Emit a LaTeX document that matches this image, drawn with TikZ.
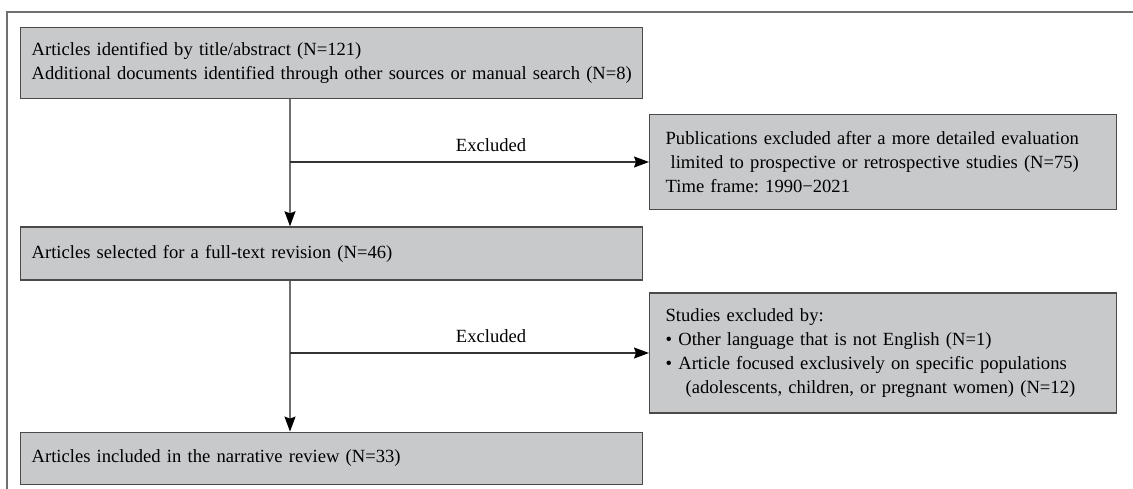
\documentclass[tikz,border=0pt]{standalone}
\usepackage{fontspec}
\usepackage{graphicx}
\setmainfont{Liberation Serif}
\frenchspacing
\usetikzlibrary{arrows.meta, positioning}
\definecolor{boxgray}{HTML}{C8C9CB}
\definecolor{edgegray}{HTML}{4A4A4A}
\definecolor{linegray}{HTML}{707070}

\begin{document}
\begin{tikzpicture}[
    x=1bp, y=-1bp,
    box/.style={draw=edgegray, fill=boxgray, line width=1.3bp, rectangle,
                inner xsep=11bp, inner ysep=0bp, align=left,
                text width=600bp, minimum width=622bp,
                font=\fontsize{18.6bp}{24bp}\selectfont},
    sidebox/.style={box, inner xsep=16bp, text width=435bp, minimum width=467bp},
    spine/.style={line width=1.4bp, draw=linegray},
    arrow/.style={spine, -{Stealth[length=15bp, width=11bp, inset=2bp, black]}},
    excl/.style={arrow, draw=black!80},
    lbl/.style={font=\fontsize{18.6bp}{24bp}\selectfont}
]
\useasboundingbox (0,0) rectangle (1133,489);

% --- Frame ---
\draw[linegray, line width=1.3bp] (7,489) -- (7,12) -- (1133,12);

% --- Main flow (left column) ---
\node[box, minimum height=71bp, anchor=north west] (ident) at (20,27)
  {Articles identified by title/abstract (N=121)\\
   \resizebox{600bp}{\height}{Additional documents identified through other sources or manual search (N=8)}};
\node[box, minimum height=53bp, below=127bp of ident] (sel)
  {Articles selected for a full-text revision (N=46)};
\node[box, minimum height=52bp, below=151bp of sel] (incl)
  {Articles included in the narrative review (N=33)};

% --- Exclusions (right column) ---
\node[sidebox, minimum height=95bp, anchor=west] (pubs) at (649,162)
  {Publications excluded after a more detailed evaluation\\
   \hspace*{5bp}limited to prospective or retrospective studies (N=75)\\
   Time frame: 1990−2021};
\node[sidebox, minimum height=120bp, anchor=west] (stud) at (649,353)
  {Studies excluded by:\\
   \textbullet\ Other language that is not English (N=1)\\
   \textbullet\ Article focused exclusively on specific populations\\
   \hspace*{20bp}(adolescents, children, or pregnant women) (N=12)};

\coordinate (spine) at (290,0);

% --- Flow arrows ---
\draw[arrow] (ident.south -| spine) -- (sel.north -| spine);
\draw[arrow] (sel.south -| spine) -- (incl.north -| spine);
\draw[excl] (spine |- pubs.west) -- node[lbl, above=6bp, pos=0.56] {Excluded} (pubs.west);
\draw[excl] (spine |- stud.west) -- node[lbl, above=6bp, pos=0.56] {Excluded} (stud.west);

\end{tikzpicture}
\end{document}
